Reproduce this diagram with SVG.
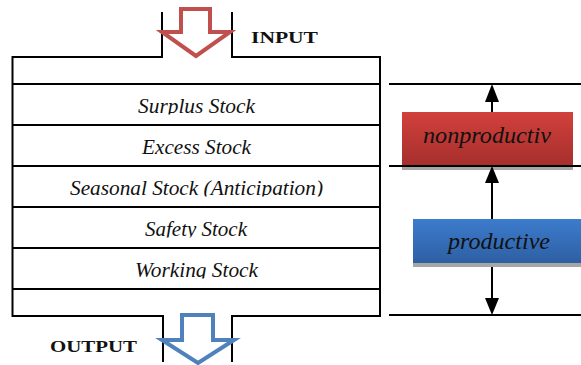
<svg xmlns="http://www.w3.org/2000/svg" width="581" height="365" viewBox="0 0 581 365">
<style>
.ln{stroke:#000;stroke-width:2;fill:none}
.row{font-family:"Liberation Serif",serif;font-style:italic;font-size:20px;fill:#111}
.lbl{font-family:"Liberation Serif",serif;font-weight:bold;font-size:17px;fill:#111}
.tag{font-family:"Liberation Serif",serif;font-style:italic;font-size:23px;fill:#111}
</style>
<defs>
<linearGradient id="gr" x1="0" y1="0" x2="0" y2="1"><stop offset="0" stop-color="#d2403c"/><stop offset="1" stop-color="#a52f2c"/></linearGradient>
<linearGradient id="gb" x1="0" y1="0" x2="0" y2="1"><stop offset="0" stop-color="#3c7ccd"/><stop offset="1" stop-color="#2e5fa3"/></linearGradient>
<clipPath id="c1"><rect x="0" y="85" width="380" height="29.5"/></clipPath>
<clipPath id="c2"><rect x="0" y="126" width="380" height="29.5"/></clipPath>
<clipPath id="c3"><rect x="0" y="167" width="380" height="29.5"/></clipPath>
<clipPath id="c4"><rect x="0" y="208" width="380" height="29.5"/></clipPath>
<clipPath id="c5"><rect x="0" y="249" width="380" height="29.5"/></clipPath>
</defs>
<rect width="581" height="365" fill="#fff"/>
<g id="container">
<path class="ln" d="M162,12 V57 H12.5 V316 H163 V362 M232,12 V57 H380 V316 H232 V362"/>
</g>
<g id="input-arrow">
<polygon points="181,9 210,9 210,32 230,32 196,56 162,32 181,32" fill="#fff" stroke="#c0504d" stroke-width="4"/>
<text class="lbl" x="251" y="43" textLength="67" lengthAdjust="spacingAndGlyphs">INPUT</text>
</g>
<g id="output-arrow">
<polygon points="182,315 213,315 213,340 234,340 198,363 162,340 182,340" fill="#fff" stroke="#4f81bd" stroke-width="4"/>
<text class="lbl" x="50" y="352" textLength="87" lengthAdjust="spacingAndGlyphs">OUTPUT</text>
</g>
<g id="row-surplus">
<line class="ln" x1="12.5" y1="84" x2="380" y2="84"/>
<text class="row" x="138" y="113" textLength="117" lengthAdjust="spacingAndGlyphs" clip-path="url(#c1)">Surplus Stock</text>
</g>
<g id="row-excess">
<line class="ln" x1="12.5" y1="125" x2="380" y2="125"/>
<text class="row" x="142" y="154" textLength="109" lengthAdjust="spacingAndGlyphs" clip-path="url(#c2)">Excess Stock</text>
</g>
<g id="row-seasonal">
<line class="ln" x1="12.5" y1="166" x2="380" y2="166"/>
<text class="row" x="70" y="195" textLength="253" lengthAdjust="spacingAndGlyphs" clip-path="url(#c3)">Seasonal Stock (Anticipation)</text>
</g>
<g id="row-safety">
<line class="ln" x1="12.5" y1="207" x2="380" y2="207"/>
<text class="row" x="145" y="236" textLength="102" lengthAdjust="spacingAndGlyphs" clip-path="url(#c4)">Safety Stock</text>
</g>
<g id="row-working">
<line class="ln" x1="12.5" y1="248" x2="380" y2="248"/>
<text class="row" x="135" y="277" textLength="123" lengthAdjust="spacingAndGlyphs" clip-path="url(#c5)">Working Stock</text>
<line class="ln" x1="12.5" y1="289" x2="380" y2="289"/>
</g>
<g id="connectors">
<line class="ln" x1="492" y1="95" x2="492" y2="305"/>
</g>
<g id="nonproductive">
<rect x="402" y="116" width="171" height="54" fill="#a6a6a6"/>
<rect x="402" y="112" width="171" height="54" fill="url(#gr)"/>
<text class="tag" x="423" y="143" textLength="128" lengthAdjust="spacingAndGlyphs">nonproductiv</text>
</g>
<g id="productive">
<rect x="413" y="223" width="170" height="44" fill="#a6a6a6"/>
<rect x="413" y="219" width="170" height="44" fill="url(#gb)"/>
<text class="tag" x="448" y="249" textLength="102" lengthAdjust="spacingAndGlyphs">productive</text>
</g>
<g id="levels">
<line class="ln" x1="389" y1="84" x2="581" y2="84"/>
<line class="ln" x1="389" y1="166" x2="581" y2="166"/>
<line class="ln" x1="389" y1="315" x2="581" y2="315"/>
<polygon points="492,84 485,102 499,102" fill="#000"/>
<polygon points="492,166 485,183 499,183" fill="#000"/>
<polygon points="492,315 485,298 499,298" fill="#000"/>
</g>
</svg>
